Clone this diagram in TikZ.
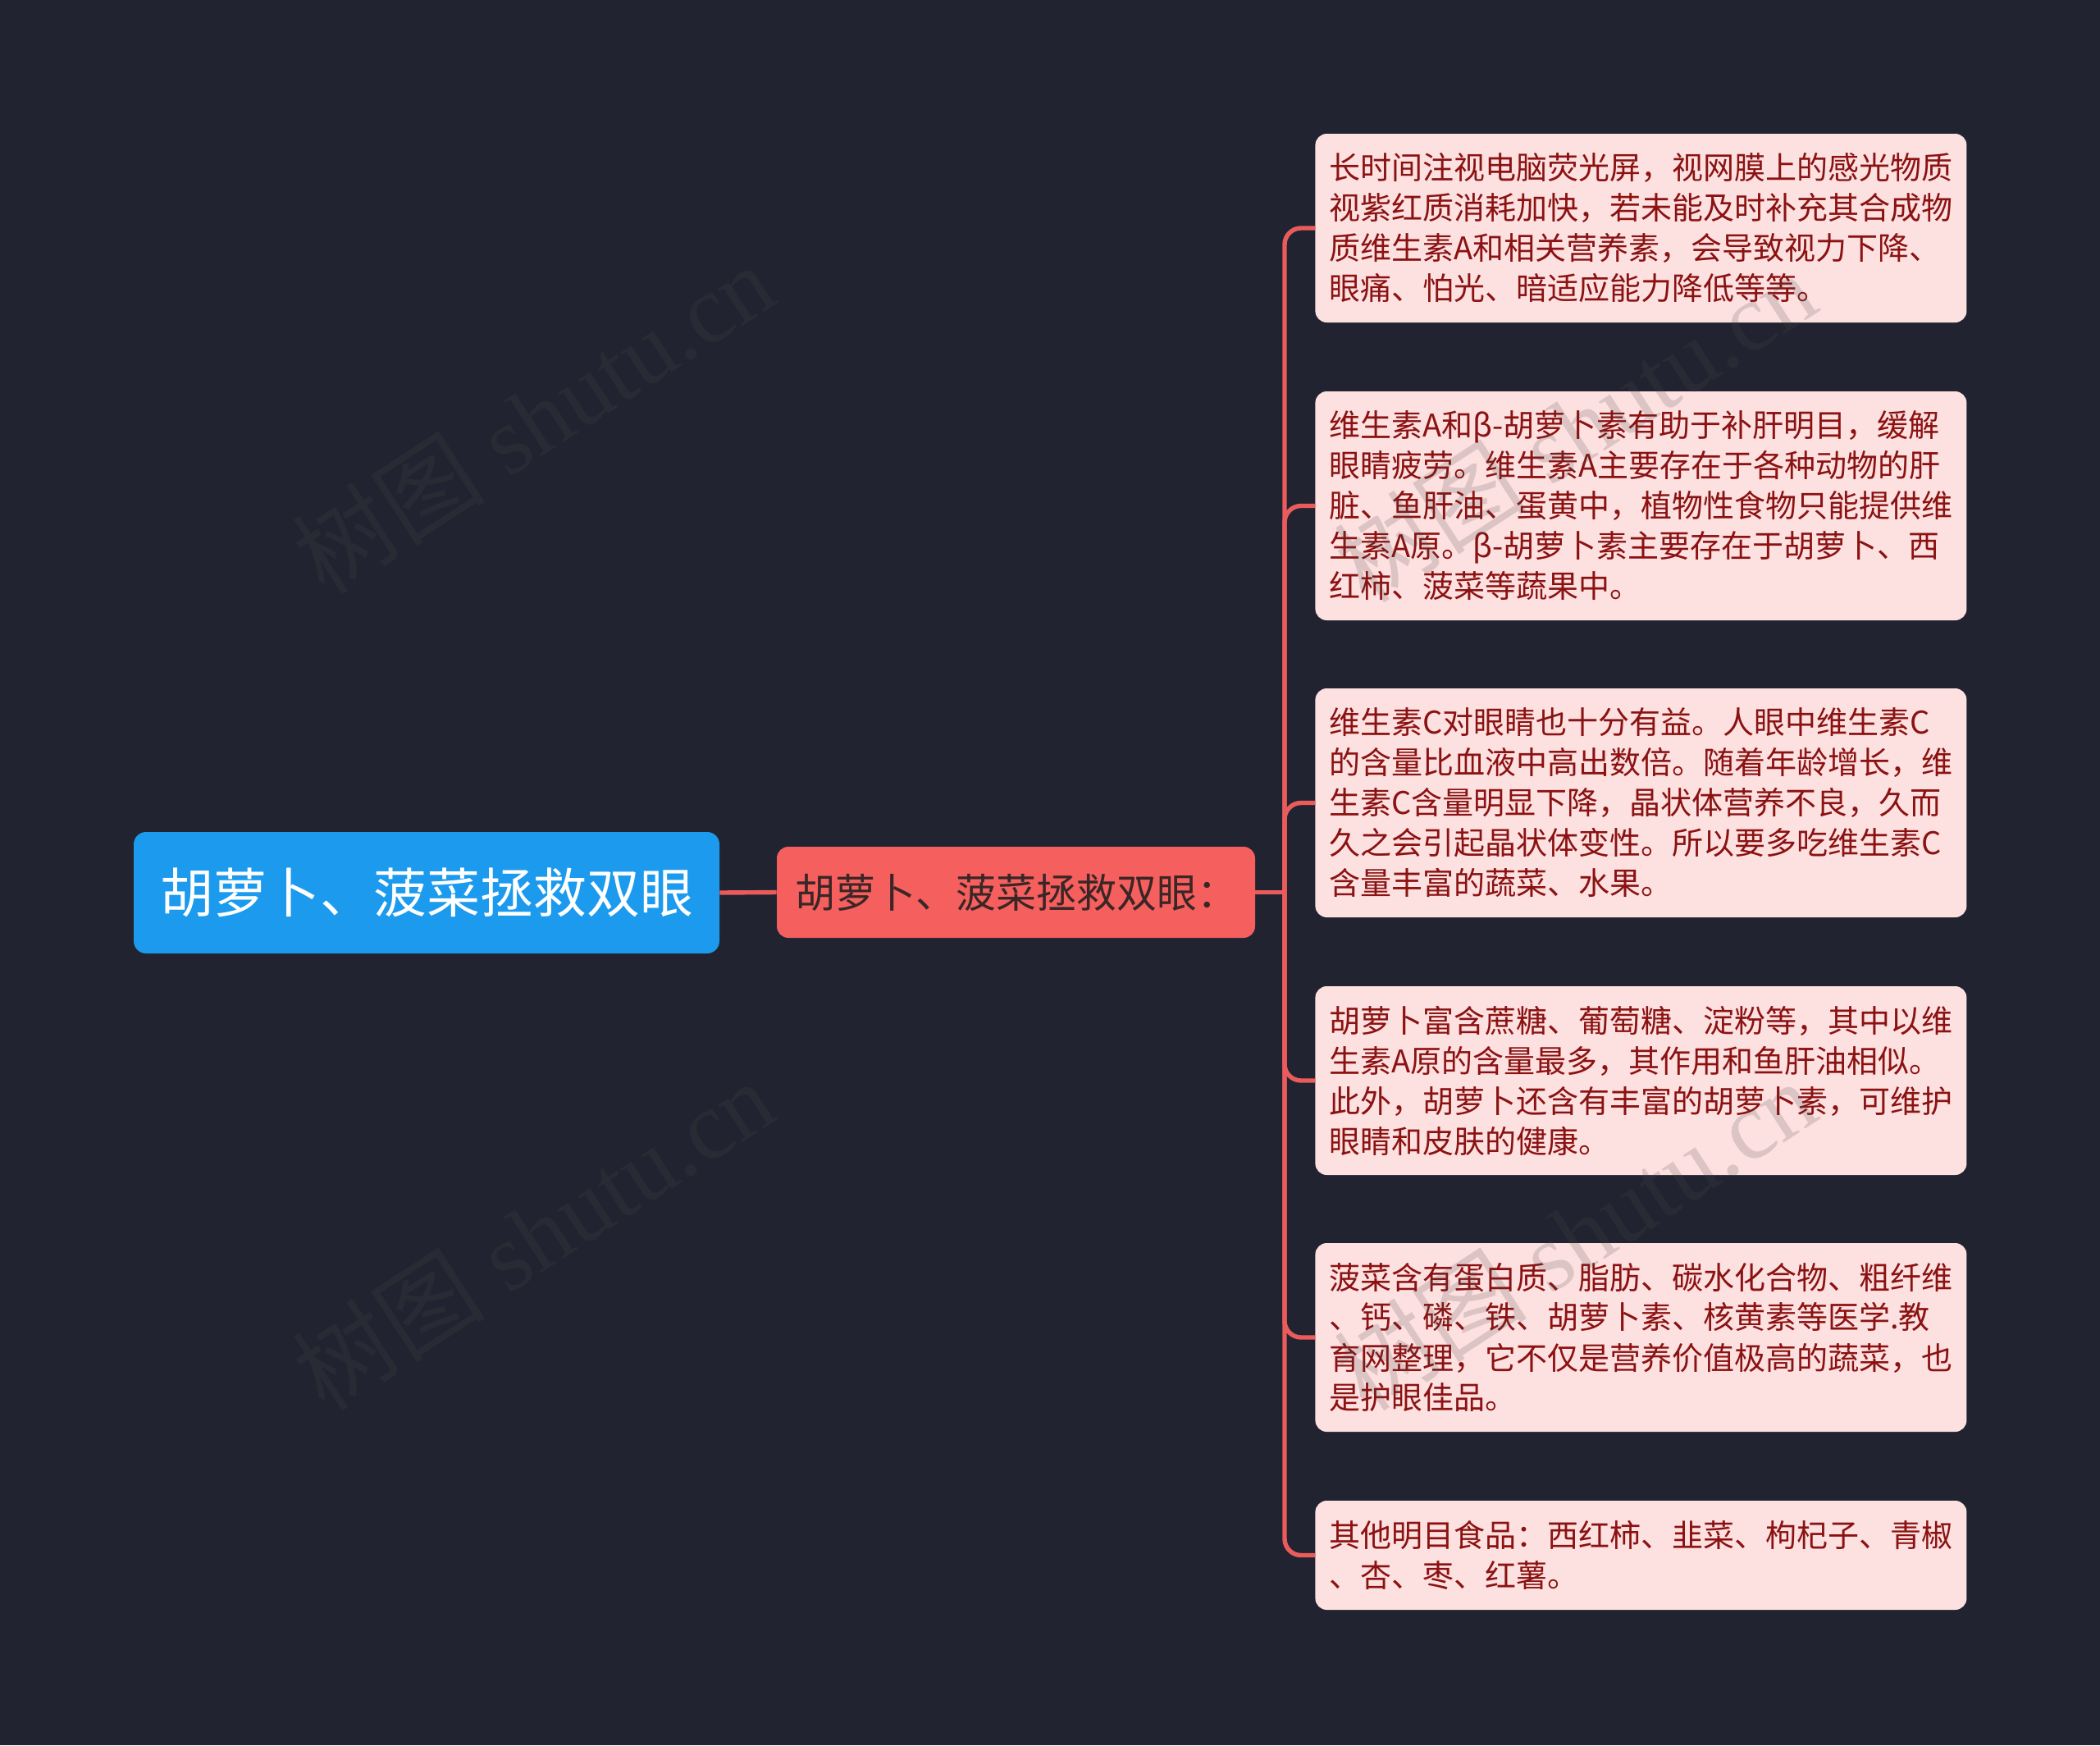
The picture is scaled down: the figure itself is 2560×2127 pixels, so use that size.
\documentclass[tikz,border=0pt]{standalone}
\usepackage{fontspec}
\setmainfont{Noto Sans CJK SC}
\newfontfamily\cjk{Noto Sans CJK SC}
\newfontfamily\wmfont{Liberation Serif}
\definecolor{bgc}{HTML}{212430}
\definecolor{rootblue}{HTML}{1B9AEE}
\definecolor{midred}{HTML}{F55F5E}
\definecolor{midtext}{HTML}{3A2626}
\definecolor{leaffill}{HTML}{FDE0E0}
\definecolor{leaftext}{HTML}{8B1212}
\definecolor{connc}{HTML}{EA5C5C}
\definecolor{wmc}{HTML}{484848}
\tikzset{
  rootbox/.style={fill=rootblue, text=white, rounded corners=7.5pt, minimum width=357pt, minimum height=74pt, inner sep=0pt, font=\fontsize{32.5}{39}\selectfont},
  midbox/.style={fill=midred, text=midtext, rounded corners=7pt, minimum width=291.5pt, minimum height=55.5pt, inner sep=0pt, font=\fontsize{24.5}{30}\selectfont},
  leafbox/.style={fill=leaffill, text=leaftext, rounded corners=7pt, anchor=west, text width=380pt, inner xsep=8.5pt, inner ysep=0pt, align=left, font=\fontsize{19}{24.5}\selectfont},
  conn/.style={draw=connc, line width=2.7pt},
  wm/.style={text=wmc, opacity=0.18, font=\fontsize{59}{66}\selectfont, inner sep=0pt}
}
\begin{document}
\begin{tikzpicture}[x=0.5pt,y=-0.5pt]
\fill[bgc] (0,0) rectangle (2560,2127);
\useasboundingbox (0,0) rectangle (2560,2127);

\node[rootbox] (root) at (520,1088) {胡萝卜、菠菜拯救双眼};
\node[midbox] (mid) at (1238.5,1087.5) {胡萝卜、菠菜拯救双眼：};
\coordinate (j) at (1566,1087.5);

\node[leafbox, minimum height=115pt] (b1) at (1603,278) {长时间注视电脑荧光屏，视网膜上的感光物质\\视紫红质消耗加快，若未能及时补充其合成物\\质维生素A和相关营养素，会导致视力下降、\\眼痛、怕光、暗适应能力降低等等。};
\node[leafbox, minimum height=139.5pt] (b2) at (1603,616.5) {维生素A和β-胡萝卜素有助于补肝明目，缓解\\眼睛疲劳。维生素A主要存在于各种动物的肝\\脏、鱼肝油、蛋黄中，植物性食物只能提供维\\生素A原。β-胡萝卜素主要存在于胡萝卜、西\\红柿、菠菜等蔬果中。};
\node[leafbox, minimum height=139.5pt] (b3) at (1603,978.5) {维生素C对眼睛也十分有益。人眼中维生素C\\的含量比血液中高出数倍。随着年龄增长，维\\生素C含量明显下降，晶状体营养不良，久而\\久之会引起晶状体变性。所以要多吃维生素C\\含量丰富的蔬菜、水果。};
\node[leafbox, minimum height=115pt] (b4) at (1603,1317) {胡萝卜富含蔗糖、葡萄糖、淀粉等，其中以维\\生素A原的含量最多，其作用和鱼肝油相似。\\此外，胡萝卜还含有丰富的胡萝卜素，可维护\\眼睛和皮肤的健康。};
\node[leafbox, minimum height=115pt] (b5) at (1603,1630) {菠菜含有蛋白质、脂肪、碳水化合物、粗纤维\\、钙、磷、铁、胡萝卜素、核黄素等医学.教\\育网整理，它不仅是营养价值极高的蔬菜，也\\是护眼佳品。};
\node[leafbox, minimum height=66.5pt] (b6) at (1603,1895.5) {其他明目食品：西红柿、韭菜、枸杞子、青椒\\、杏、枣、红薯。};

\draw[conn] (root.east) -- (mid.west);
\draw[conn] (mid.east) -- (j);
\foreach \b in {b1,b2,b3,b4,b5,b6}
  \draw[conn, rounded corners=10pt] (j) |- (\b.west);

\node[wm, rotate=33] (w1) at (650,510) {\cjk 树图\wmfont\ shutu.cn};
\node[wm, rotate=33] (w2) at (650,1505) {\cjk 树图\wmfont\ shutu.cn};
\node[wm, rotate=33] (w3) at (1920,520) {\cjk 树图\wmfont\ shutu.cn};
\node[wm, rotate=33] (w4) at (1920,1505) {\cjk 树图\wmfont\ shutu.cn};
\end{tikzpicture}
\end{document}
